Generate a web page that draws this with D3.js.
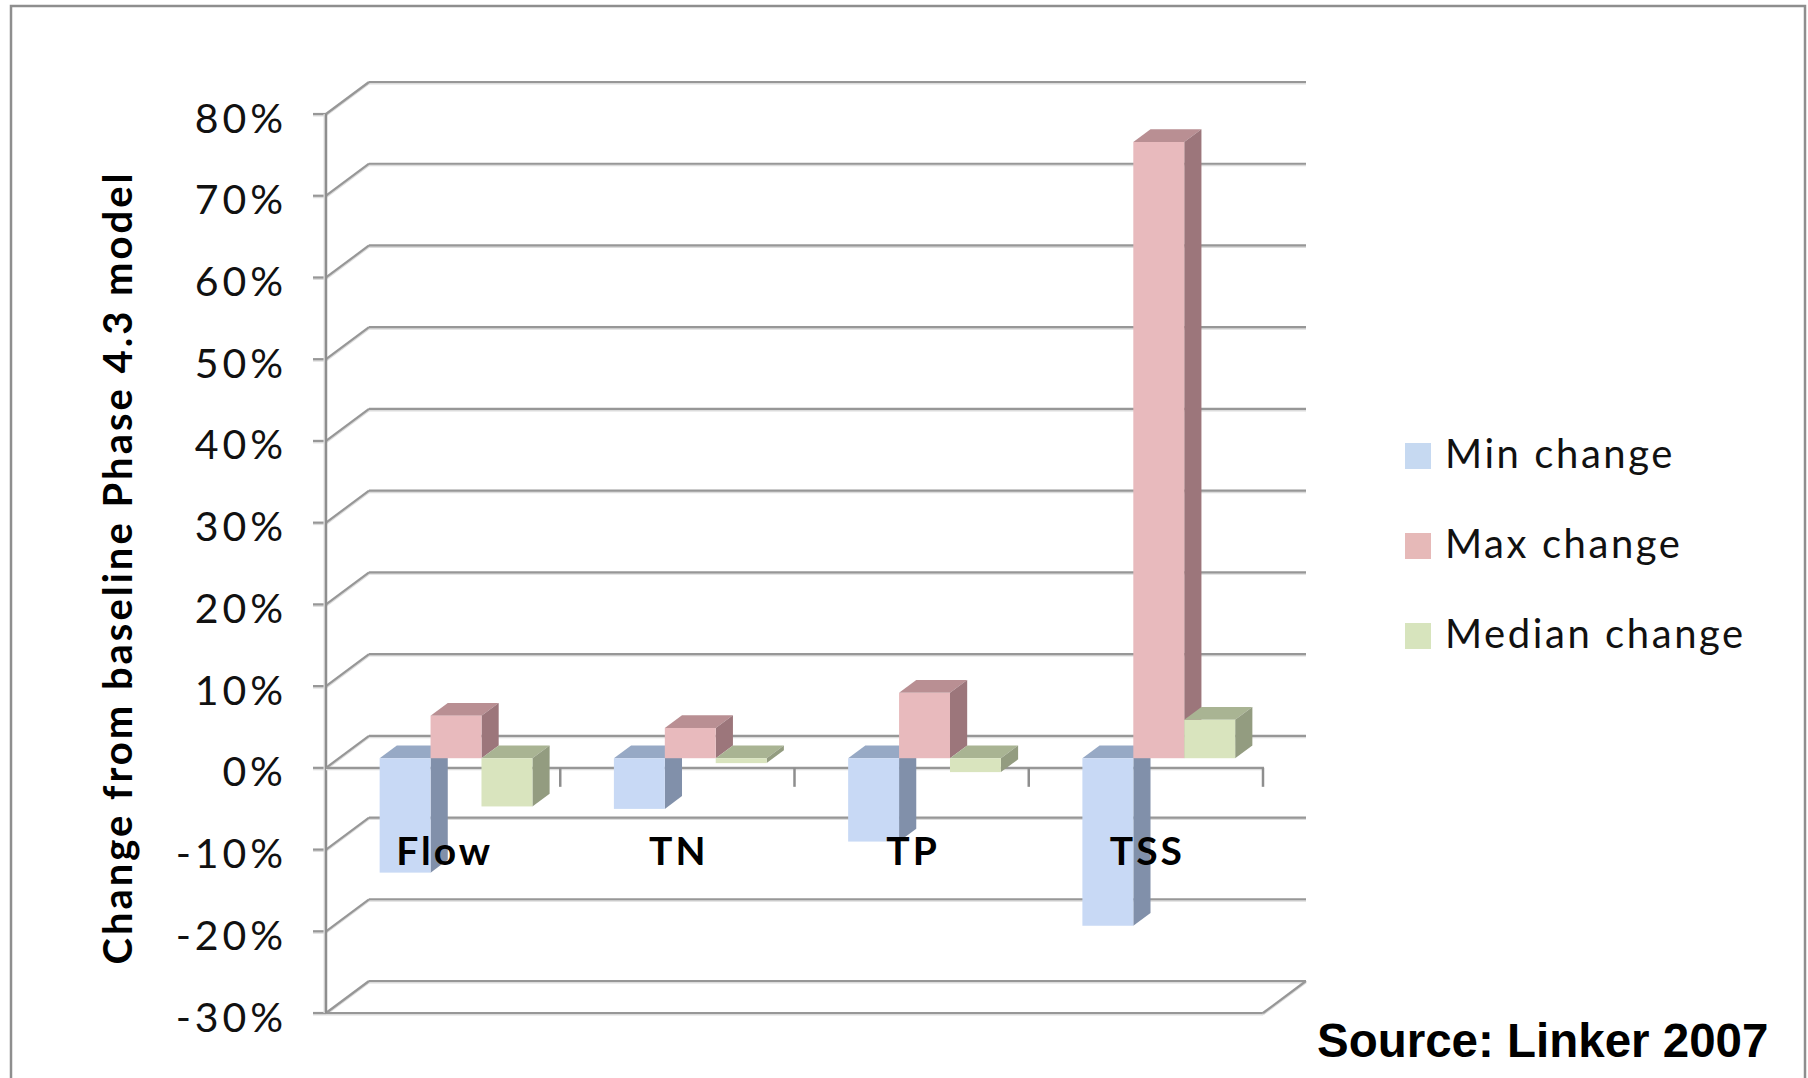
<!DOCTYPE html>
<html>
<head>
<meta charset="utf-8">
<script src="https://cdn.jsdelivr.net/npm/d3@7"></script>
<style>
  html, body { margin: 0; padding: 0; background: #fff; }
  svg { display: block; }
</style>
</head>
<body>
<svg id="chart" width="1808" height="1078"></svg>
<script>
// ---------- DATA ----------
const categories = ["Flow", "TN", "TP", "TSS"];
const seriesNames = ["Min change", "Max change", "Median change"];
const minChange = [-0.140, -0.062, -0.102, -0.205];
const maxChange = [0.052, 0.037, 0.080, 0.754];
const medianChange = [-0.059, -0.006, -0.017, 0.047];
const tickValues = [-0.3, -0.2, -0.1, 0, 0.1, 0.2, 0.3, 0.4, 0.5, 0.6, 0.7, 0.8];
const yTitle = "Change from baseline Phase 4.3 model";
const sourceText = "Source: Linker 2007";

// ---------- STYLE ----------
const faceColors = [
  { front: "#c8d9f5", top: "#97a9c5", side: "#8190aa" },
  { front: "#e8babd", top: "#b98f93", side: "#9c767b" },
  { front: "#d9e4be", top: "#a9b493", side: "#939c80" }
];
const legendColors = ["#c6d9f1", "#e6b9b8", "#d7e4bd"];
const FONT = "Lato, 'Open Sans', sans-serif";

const svg = d3.select("#chart");

// letter-spacing needed so that str at given size reaches target width
function fitSpacing(family, weight, str, size, target) {
  const t = svg.append("text").attr("font-family", family).attr("font-weight", weight)
    .attr("font-size", size).text(str);
  const w = t.node().getComputedTextLength();
  t.remove();
  return Math.max(0, (target - w) / str.length);
}

// outer border
svg.append("rect").attr("x", 11).attr("y", 6).attr("width", 1794).attr("height", 1090)
  .attr("fill", "#fff").attr("stroke", "#8e8e8e").attr("stroke-width", 2.5);

// geometry
const X0 = 326, X1 = 1263;
const DX = 43, DY = -32;
const y = d3.scaleLinear().domain([-0.3, 0.8]).range([1013, 114]);
const x0 = d3.scaleBand().domain(categories).range([X0, X1]).paddingInner(0).paddingOuter(0);
const x1 = d3.scaleBand().domain(seriesNames).range([0, x0.bandwidth()]).paddingInner(0).paddingOuter(0.8);

const grid = svg.append("g");
function gline(xa, ya, xb, yb) {
  grid.append("line").attr("x1", xa).attr("y1", ya + 1.5).attr("x2", xb).attr("y2", yb + 1.5)
    .attr("stroke", "#dcdcdc").attr("stroke-width", 2);
  grid.append("line").attr("x1", xa).attr("y1", ya).attr("x2", xb).attr("y2", yb)
    .attr("stroke", "#979797").attr("stroke-width", 2.2);
}
tickValues.forEach(v => {
  const yf = y(v), yb = y(v) + DY;
  gline(X0 + DX, yb, X1 + DX, yb);
  gline(X0, yf, X0 + DX, yb);
  gline(X0 - 13, yf, X0, yf);
});
gline(X0, y(-0.3), X1, y(-0.3));
gline(X1, y(-0.3), X1 + DX, y(-0.3) + DY);
grid.append("line").attr("x1", X0 - 1.5).attr("y1", y(0.8)).attr("x2", X0 - 1.5).attr("y2", y(-0.3))
  .attr("stroke", "#e2e2e2").attr("stroke-width", 2);
grid.append("line").attr("x1", X0).attr("y1", y(0.8)).attr("x2", X0).attr("y2", y(-0.3))
  .attr("stroke", "#8e8e8e").attr("stroke-width", 2.5);
gline(X0, y(0), X1 + 1, y(0));
categories.forEach(c => {
  const xe = x0(c) + x0.bandwidth();
  grid.append("line").attr("x1", xe).attr("y1", y(0)).attr("x2", xe).attr("y2", y(0) + 19)
    .attr("stroke", "#8e8e8e").attr("stroke-width", 2.5);
});

// tick labels
const tickFs = 41;
const tickLs = fitSpacing(FONT, "normal", "80%", tickFs, 92);
const tickG = svg.append("g");
tickValues.forEach(v => {
  tickG.append("text").attr("x", 283 + tickLs).attr("y", y(v) + 3)
    .attr("text-anchor", "end").attr("dominant-baseline", "central")
    .attr("font-family", FONT).attr("font-size", tickFs).attr("letter-spacing", tickLs)
    .attr("fill", "#111").text(Math.round(v * 100) + "%");
});

// bars
const values = [minChange, maxChange, medianChange];
const fF = 0.3, fB = 0.7;
const barsG = svg.append("g");
categories.forEach((c, ci) => {
  seriesNames.forEach((s, si) => {
    const v = values[si][ci];
    const col = faceColors[si];
    const xl = x0(c) + x1(s), xr = xl + x1.bandwidth();
    const fx = fF * DX, fy = fF * DY, bx = fB * DX, by = fB * DY;
    const yTop = y(Math.max(v, 0)), yBot = y(Math.min(v, 0));
    barsG.append("polygon").attr("points", [
      [xl + fx, yTop + fy], [xr + fx, yTop + fy], [xr + bx, yTop + by], [xl + bx, yTop + by]
    ].map(p => p.join(",")).join(" ")).attr("fill", col.top);
    barsG.append("polygon").attr("points", [
      [xr + fx, yTop + fy], [xr + bx, yTop + by], [xr + bx, yBot + by], [xr + fx, yBot + fy]
    ].map(p => p.join(",")).join(" ")).attr("fill", col.side);
    barsG.append("rect").attr("x", xl + fx).attr("y", yTop + fy)
      .attr("width", xr - xl).attr("height", Math.max(0, yBot - yTop)).attr("fill", col.front);
  });
});

// category labels
const catFs = 39;
const catLs = fitSpacing(FONT, "bold", "Flow", catFs, 97);
categories.forEach(c => {
  svg.append("text").attr("x", x0(c) + x0.bandwidth() / 2 + catLs / 2).attr("y", 865)
    .attr("text-anchor", "middle").attr("font-family", FONT).attr("letter-spacing", catLs)
    .attr("font-weight", "bold").attr("font-size", catFs).attr("fill", "#000").text(c);
});

// y-axis title
const titleFs = 40;
const titleLs = fitSpacing(FONT, "bold", yTitle, titleFs, 794);
svg.append("text").attr("transform", `translate(132,${566 + titleLs / 2}) rotate(-90)`)
  .attr("text-anchor", "middle").attr("font-family", FONT).attr("letter-spacing", titleLs)
  .attr("font-weight", "bold").attr("font-size", titleFs).attr("fill", "#000").text(yTitle);

// legend
const legFs = 40;
const legLs = fitSpacing(FONT, "normal", "Min change", legFs, 230);
seriesNames.forEach((s, i) => {
  const yy = 443 + i * 90;
  svg.append("rect").attr("x", 1405).attr("y", yy).attr("width", 26).attr("height", 26)
    .attr("fill", legendColors[i]);
  svg.append("text").attr("x", 1445).attr("y", yy + 25)
    .attr("font-family", FONT).attr("font-size", legFs).attr("letter-spacing", legLs)
    .attr("fill", "#111").text(s);
});

// source
svg.append("text").attr("x", 1317).attr("y", 1057)
  .attr("font-family", "'Liberation Sans', Arial, sans-serif").attr("font-weight", "bold")
  .attr("font-size", 47.5).attr("fill", "#000").text(sourceText);
</script>
</body>
</html>
